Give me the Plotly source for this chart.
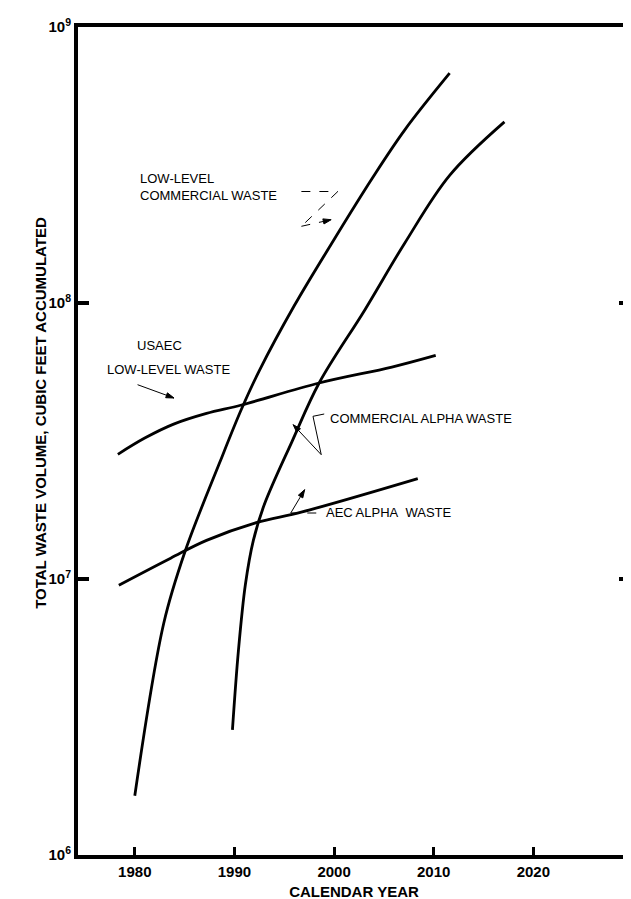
import math
import plotly.graph_objects as go

# ---- data (calendar year, cubic feet accumulated) ----
ll_comm_year = [1980.0, 1982.9, 1985.05, 1988.5, 1990.7, 1992.5, 1996.0, 1999.65, 2003.8, 2007.1, 2011.6]
ll_comm_vol = [1.64e6, 6.9e6, 1.26e7, 2.63e7, 4.12e7, 5.69e7, 9.77e7, 1.62e8, 2.82e8, 4.24e8, 6.8e8]

usaec_ll_year = [1978.3, 1981.0, 1983.9, 1987.2, 1990.7, 1998.5, 2005.8, 2010.2]
usaec_ll_vol = [2.83e7, 3.24e7, 3.64e7, 3.98e7, 4.27e7, 5.13e7, 5.86e7, 6.46e7]

aec_alpha_year = [1978.4, 1983.6, 1987.2, 1992.2, 1996.8, 2008.4]
aec_alpha_vol = [9.5e6, 1.19e7, 1.38e7, 1.60e7, 1.75e7, 2.31e7]

comm_alpha_year = [1989.8, 1990.4, 1991.1, 1991.9, 1993.0, 1995.8, 1998.5, 2003.1, 2007.1, 2011.6, 2017.1]
comm_alpha_vol = [2.84e6, 5.50e6, 9.55e6, 1.38e7, 1.86e7, 3.16e7, 5.13e7, 9.46e7, 1.65e8, 2.90e8, 4.53e8]

x_ticks = [1980, 1990, 2000, 2010, 2020]
y_ticks = [1e6, 1e7, 1e8, 1e9]
y_tick_text = ["10<sup>6</sup>", "10<sup>7</sup>", "10<sup>8</sup>", "10<sup>9</sup>"]

# ---- layout geometry (pixels) ----
W, H = 631, 899
L, R, T, B = 70, 5, 19, 52
PW, PH = W - L - R, H - T - B


def px(x):
    return (x - L) / PW


def py(y):
    return (H - B - y) / PH


FONT = "Liberation Sans, Arial, Helvetica, sans-serif"

fig = go.Figure()
for xs, ys in [(ll_comm_year, ll_comm_vol), (usaec_ll_year, usaec_ll_vol),
               (aec_alpha_year, aec_alpha_vol), (comm_alpha_year, comm_alpha_vol)]:
    fig.add_trace(go.Scatter(x=xs, y=ys, mode="lines",
                             line=dict(color="black", width=2.8, shape="spline", smoothing=1.0),
                             showlegend=False, hoverinfo="skip"))

fig.update_layout(
    width=W, height=H,
    margin=dict(l=L, r=R, t=T, b=B),
    paper_bgcolor="white", plot_bgcolor="white",
    font=dict(family=FONT, color="black"),
    showlegend=False,
)
fig.update_xaxes(
    range=[1974.3, 2029.7], tickvals=x_ticks, ticks="inside", ticklen=8, tickwidth=3,
    tickcolor="black", showline=True, linewidth=4, linecolor="black", mirror=True,
    showgrid=False, zeroline=False,
    tickfont=dict(family=FONT, size=15, color="black", weight="bold"),
    title=dict(text="CALENDAR YEAR", font=dict(family=FONT, size=15, weight="bold"), standoff=8),
)
fig.update_yaxes(
    type="log", range=[6, 9], tickvals=y_ticks, ticktext=y_tick_text,
    ticks="inside", ticklen=11, tickwidth=4, tickcolor="black",
    showline=True, linewidth=4, linecolor="black", mirror="ticks",
    showgrid=False, zeroline=False,
    tickfont=dict(family=FONT, size=15, color="black", weight="bold"),
)

# y-axis title
fig.add_annotation(text="TOTAL WASTE VOLUME, CUBIC FEET ACCUMULATED", xref="paper", yref="paper",
                   x=px(22), y=py(405), textangle=-90, showarrow=False,
                   font=dict(family=FONT, size=15, weight="bold"))

TXT = dict(family=FONT, size=13, color="black")
fig.add_annotation(text="LOW-LEVEL<br>COMMERCIAL WASTE", xref="paper", yref="paper",
                   x=px(130), y=py(179), xanchor="left", yanchor="middle", align="left",
                   showarrow=False, font=TXT)
fig.add_annotation(text="USAEC", xref="paper", yref="paper", x=px(152), y=py(337),
                   xanchor="center", yanchor="middle", showarrow=False, font=TXT)
fig.add_annotation(text="LOW-LEVEL WASTE", xref="paper", yref="paper", x=px(225), y=py(362),
                   xanchor="right", yanchor="middle", showarrow=False, font=TXT)
fig.add_annotation(text="COMMERCIAL ALPHA WASTE", xref="paper", yref="paper", x=px(322), y=py(410),
                   xanchor="left", yanchor="middle", showarrow=False, font=TXT)
fig.add_annotation(text="AEC ALPHA\u00a0\u00a0WASTE", xref="paper", yref="paper", x=px(318), y=py(505),
                   xanchor="left", yanchor="middle", showarrow=False, font=TXT)


# leader lines
def seg(x0, y0, x1, y1, dash="solid"):
    fig.add_shape(type="line", xref="paper", yref="paper", x0=px(x0), y0=py(y0), x1=px(x1), y1=py(y1),
                  line=dict(color="black", width=1, dash=dash))


def arrow(xt, yt, xh, yh, dash="solid"):
    seg(xt, yt, xh, yh, dash)
    dx, dy = xh - xt, yh - yt
    n = math.hypot(dx, dy)
    ux, uy = dx / n, dy / n
    ln, hw = 8.0, 2.6
    bx, by = xh - ux * ln, yh - uy * ln
    p1 = (bx - uy * hw, by + ux * hw)
    p2 = (bx + uy * hw, by - ux * hw)
    path = "M {} {} L {} {} L {} {} Z".format(px(xh), py(yh), px(p1[0]), py(p1[1]), px(p2[0]), py(p2[1]))
    fig.add_shape(type="path", xref="paper", yref="paper", path=path,
                  fillcolor="black", line=dict(color="black", width=1))


# low-level commercial
seg(295, 183.5, 331.7, 183.5, "dash")
seg(331.7, 183.5, 295, 218.3, "dash")
arrow(295, 218.3, 325, 211.7, "dash")
# USAEC
arrow(130, 376.7, 166.7, 390)
# commercial alpha
seg(318, 406, 306.7, 408.3)
seg(306.7, 408.3, 315, 446.7)
arrow(315, 446.7, 286.7, 416.7)
# AEC alpha
seg(310, 505, 284.3, 505, "dash")
arrow(284.3, 505, 298.3, 481.7)

fig.write_html("out.html")
